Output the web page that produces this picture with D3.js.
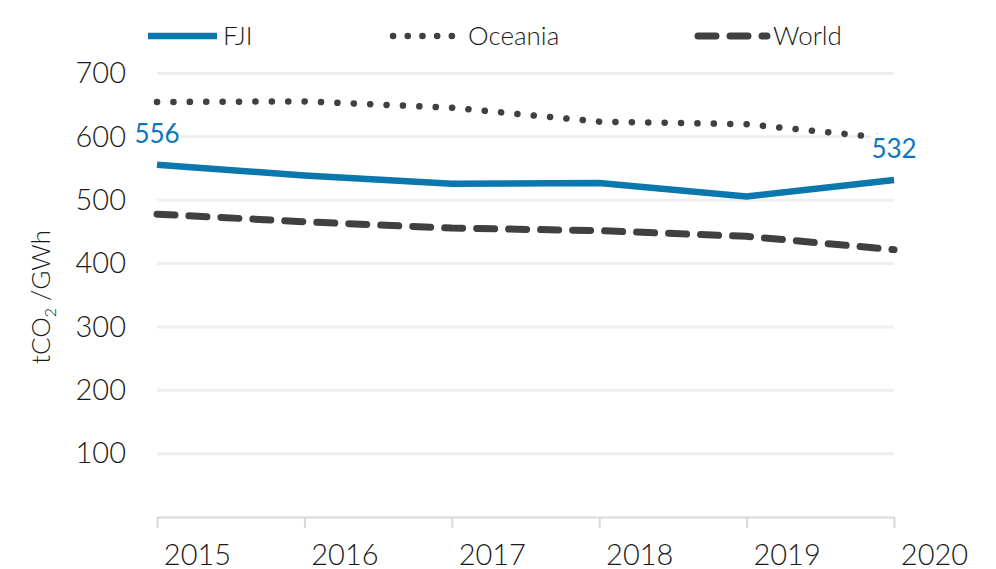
<!DOCTYPE html>
<html>
<head>
<meta charset="utf-8">
<script src="https://cdn.jsdelivr.net/npm/d3@7"></script>
<style>
  body { margin: 0; background: #fff; }
  text { font-family: Lato, "Open Sans", sans-serif; font-weight: 300; fill: #1a1a1a; }
</style>
</head>
<body>
<div class="chart"></div>
<script>
// Data
var years = ["2015", "2016", "2017", "2018", "2019", "2020"];
var fji = [556, 539, 526, 527, 506, 532];
var oceania = [655, 656, 646, 624, 620, 597];
var world = [478, 466, 456, 452, 443, 422];
var yTicks = [100, 200, 300, 400, 500, 600, 700];

var svgWidth = 996;
var svgHeight = 569;

var svg = d3.select(".chart")
  .append("svg")
  .attr("width", svgWidth)
  .attr("height", svgHeight);

var x = d3.scalePoint()
  .domain(years)
  .range([157, 894]);

var y = d3.scaleLinear()
  .domain([0, 700])
  .range([517, 73.5]);

// gridlines
svg.append("g")
  .selectAll("line")
  .data(yTicks)
  .enter()
  .append("line")
  .attr("x1", 157)
  .attr("x2", 894)
  .attr("y1", d => y(d))
  .attr("y2", d => y(d))
  .attr("stroke", "#efefef")
  .attr("stroke-width", 3);

// y tick labels
var leftAxis = d3.axisLeft(y).tickValues(yTicks).tickSize(0).tickPadding(0);
var yAxisG = svg.append("g")
  .attr("transform", "translate(126,0)")
  .call(leftAxis);
yAxisG.select(".domain").remove();
yAxisG.selectAll("text")
  .style("font-size", "29px")
  .attr("fill", "#1a1a1a");

// x axis
var bottomAxis = d3.axisBottom(x).tickSizeInner(11).tickSizeOuter(0).tickPadding(16);
var xAxisG = svg.append("g")
  .attr("transform", `translate(0, ${y(0)})`)
  .call(bottomAxis);
xAxisG.select(".domain").attr("stroke", "#d9d9d9").attr("stroke-width", 2);
xAxisG.selectAll(".tick line").attr("stroke", "#d9d9d9").attr("stroke-width", 2);
xAxisG.selectAll("text")
  .attr("dx", 40)
  .style("font-size", "29px")
  .attr("fill", "#1a1a1a");

// y axis title
var yTitle = svg.append("text")
  .attr("transform", "translate(50, 297) rotate(-90)")
  .attr("text-anchor", "middle")
  .style("font-size", "26px");
yTitle.append("tspan").text("tCO");
yTitle.append("tspan").attr("dy", 6).style("font-size", "16px").text("2");
yTitle.append("tspan").attr("dy", -6).text(" /GWh");

var line = d3.line()
  .x((d, i) => x(years[i]))
  .y(d => y(d));

svg.append("path")
  .datum(oceania)
  .attr("d", line)
  .attr("fill", "none")
  .attr("stroke", "#404040")
  .attr("stroke-width", 6.5)
  .attr("stroke-linecap", "round")
  .attr("stroke-dasharray", "0.1 16.3");

svg.append("path")
  .datum(world)
  .attr("d", line)
  .attr("fill", "none")
  .attr("stroke", "#404040")
  .attr("stroke-width", 7)
  .attr("stroke-linecap", "round")
  .attr("stroke-dasharray", "18 14");

svg.append("path")
  .datum(fji)
  .attr("d", line)
  .attr("fill", "none")
  .attr("stroke", "#0a77ad")
  .attr("stroke-width", 6.5);

// data labels for first and last FJI points
var labelIdx = [0, fji.length - 1];
var labels = svg.append("g")
  .selectAll("g")
  .data(labelIdx)
  .enter()
  .append("g")
  .attr("transform", i => `translate(${x(years[i])}, ${y(fji[i]) - 22})`);
labels.append("rect")
  .attr("x", -23)
  .attr("y", -24)
  .attr("width", 46)
  .attr("height", 28)
  .attr("fill", "#fff");
labels.append("text")
  .attr("text-anchor", "middle")
  .style("font-size", "26px")
  .style("font-weight", 400)
  .attr("fill", "#0b77c0")
  .style("fill", "#0b77c0")
  .text(i => fji[i]);

// legend
var legendItems = [
  { name: "FJI", x: 145, dash: null, color: "#0a77ad", w: 6.5, cap: "butt" },
  { name: "Oceania", x: 390, dash: "0.1 14.6", color: "#404040", w: 6.5, cap: "round" },
  { name: "World", x: 695, dash: "18 14", color: "#404040", w: 7, cap: "round" }
];
var legend = svg.append("g")
  .selectAll("g")
  .data(legendItems)
  .enter()
  .append("g")
  .attr("transform", d => `translate(${d.x}, 36)`);
legend.append("line")
  .attr("x1", 3)
  .attr("x2", 72)
  .attr("stroke", d => d.color)
  .attr("stroke-width", d => d.w)
  .attr("stroke-linecap", d => d.cap)
  .attr("stroke-dasharray", d => d.dash);
legend.append("text")
  .attr("x", 78)
  .attr("dy", "0.35em")
  .style("font-size", "26px")
  .text(d => d.name);
</script>
</body>
</html>
